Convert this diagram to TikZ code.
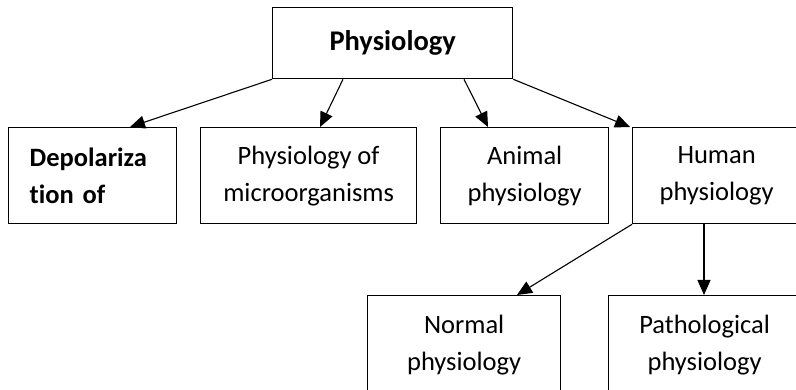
\documentclass[tikz,border=0pt]{standalone}
\usepackage{fontspec}
\setmainfont[Ligatures=NoCommon]{Carlito}
\usetikzlibrary{arrows.meta}
\begin{document}
\begin{tikzpicture}[x=1pt,y=-1pt,
  box/.style={draw,line width=1.3pt,anchor=north west,inner sep=0pt,align=center,
    font=\fontsize{26.5}{37}\selectfont},
  arr/.style={line width=1.1pt,-{Triangle[length=15pt,width=13pt]}}]
\useasboundingbox (0,0) rectangle (796,390);
\node[box,minimum width=240pt,minimum height=71pt,font=\fontsize{28.5}{37}\selectfont\bfseries] (phys) at (272,7) {Physiology};
\node[box,minimum width=168pt,minimum height=96pt,text width=126pt,inner xsep=21pt,align=left,font=\fontsize{26.5}{37}\selectfont\bfseries] (dep) at (8,127) {Depolariza\\tion of};
\node[box,minimum width=216pt,minimum height=96pt] (micro) at (200,127) {Physiology of\\microorganisms};
\node[box,minimum width=168pt,minimum height=96pt] (animal) at (440,127) {Animal\\physiology};
\node[box,minimum width=168pt,minimum height=96pt] (human) at (632,127) {Human\\physiology};
\node[box,minimum width=193pt,minimum height=98pt] (normal) at (367,295) {Normal\\physiology};
\node[box,minimum width=192pt,minimum height=98pt] (patho) at (608,295) {Pathological\\physiology};
\draw[arr] (phys.south west) -- ([xshift=122pt]dep.north west);
\draw[arr] ([xshift=71pt]phys.south west) -- ([xshift=120pt]micro.north west);
\draw[arr] ([xshift=192pt]phys.south west) -- ([xshift=48pt]animal.north west);
\draw[arr] (phys.south east) -- ([xshift=-2pt]human.north west);
\draw[arr] (human.south west) -- ([xshift=150pt]normal.north west);
\draw[arr] ([xshift=72pt]human.south west) -- ([xshift=96pt]patho.north west);
\end{tikzpicture}
\end{document}
